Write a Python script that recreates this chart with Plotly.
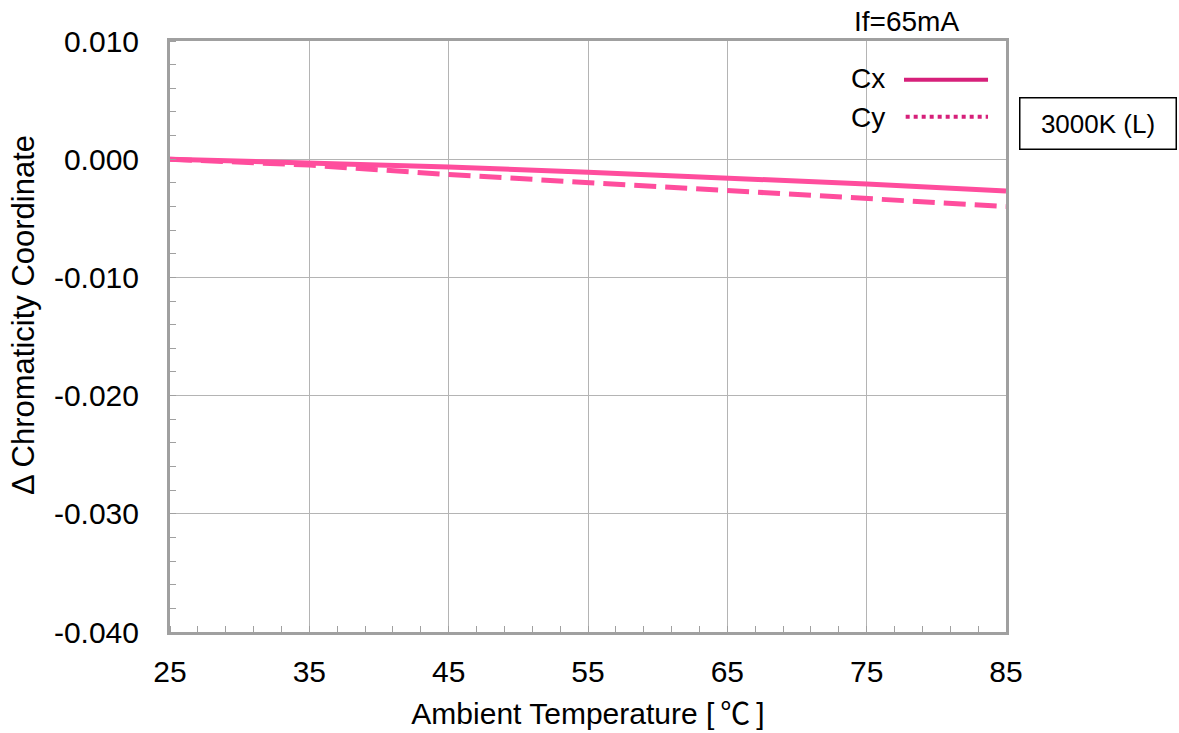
import plotly.graph_objects as go

temps = [25, 35, 45, 55, 65, 75, 85]
cx_vals = [0.0, -0.0003, -0.00065, -0.0011, -0.00155, -0.0021, -0.0027]
cy_vals = [0.0, -0.0005, -0.0013, -0.0020, -0.0027, -0.0034, -0.0040]

x_ticks = [25, 35, 45, 55, 65, 75, 85]
x_ticktext = ["25", "35", "45", "55", "65", "75", "85"]
y_ticks = [0.010, 0.000, -0.010, -0.020, -0.030, -0.040]
y_ticktext = ["0.010", "0.000", "-0.010", "-0.020", "-0.030", "-0.040"]

LINE = "#ff4d9d"
LEG = "#d6207a"
GRID = "#b4b4b4"
AXIS = "#a0a0a0"
FONT = "Liberation Sans, Arial, Noto Sans CJK JP, sans-serif"
TF = 30

fig = go.Figure()
fig.add_trace(go.Scatter(x=temps, y=cy_vals, mode="lines", name="Cy",
                         line=dict(color=LINE, width=5, dash="22px,9px"),
                         showlegend=False))
fig.add_trace(go.Scatter(x=temps, y=cx_vals, mode="lines", name="Cx",
                         line=dict(color=LINE, width=5), showlegend=False))

fig.update_layout(
    width=1179, height=733,
    margin=dict(l=170, r=173, t=41, b=101),
    paper_bgcolor="white", plot_bgcolor="white",
    font=dict(family=FONT, size=TF, color="black"),
    showlegend=False,
)
fig.update_xaxes(
    range=[25, 85], tickvals=x_ticks, ticktext=x_ticktext, automargin=False,
    showgrid=True, gridcolor=GRID, gridwidth=1,
    showline=True, linecolor=AXIS, linewidth=3, mirror=True,
    ticks="", ticklabelstandoff=11, zeroline=False,
    minor=dict(ticks="inside", ticklen=6, dtick=2, tick0=25, tickcolor=AXIS, tickwidth=1, showgrid=False),
    title=dict(text='Ambient Temperature [<span style="font-family:Noto Sans CJK JP">\u2009℃\u2009</span>]',
               font=dict(size=TF), standoff=22),
)
fig.update_yaxes(
    range=[-0.04, 0.01], tickvals=y_ticks, ticktext=y_ticktext, automargin=False,
    showgrid=True, gridcolor=GRID, gridwidth=1,
    showline=True, linecolor=AXIS, linewidth=3, mirror=True,
    ticks="", ticklabelstandoff=22, zeroline=False,
    minor=dict(ticks="inside", ticklen=6, dtick=0.002, tick0=0, tickcolor=AXIS, tickwidth=1, showgrid=False),
)

# y-axis title as annotation (positioned like the reference)
fig.add_annotation(text="Δ Chromaticity Coordinate", xref="paper", yref="paper",
                   x=-0.176, y=0.536, textangle=-90, showarrow=False,
                   font=dict(size=31), xanchor="center", yanchor="middle")

# condition label
fig.add_annotation(text="If=65mA", xref="paper", yref="paper", x=0.8815, y=1.0,
                   showarrow=False, xanchor="center", yanchor="middle", yshift=20,
                   font=dict(size=28))

# legend (drawn manually: label left of sample)
fig.add_annotation(text="Cx", xref="paper", yref="paper", x=0.8577, y=0.937,
                   showarrow=False, xanchor="right", yanchor="middle", font=dict(size=28))
fig.add_annotation(text="Cy", xref="paper", yref="paper", x=0.8577, y=0.870,
                   showarrow=False, xanchor="right", yanchor="middle", font=dict(size=28))
fig.add_shape(type="line", xref="paper", yref="paper", x0=0.878, x1=0.9785,
              y0=0.9345, y1=0.9345, line=dict(color=LEG, width=4))
fig.add_shape(type="line", xref="paper", yref="paper", x0=0.880, x1=0.9785,
              y0=0.872, y1=0.872, line=dict(color=LEG, width=4, dash="4px,4px"))

# boxed label
fig.add_annotation(text="3000K (L)", xref="paper", yref="paper", x=1.0156, y=0.8604,
                   showarrow=False, xanchor="left", yanchor="middle",
                   font=dict(size=26), bordercolor="black", borderwidth=1.5,
                   borderpad=0, width=155, height=50, bgcolor="white")

fig.write_html("out.html", config={"displayModeBar": False},
               post_script="document.body.style.margin='0';document.documentElement.style.margin='0';")
